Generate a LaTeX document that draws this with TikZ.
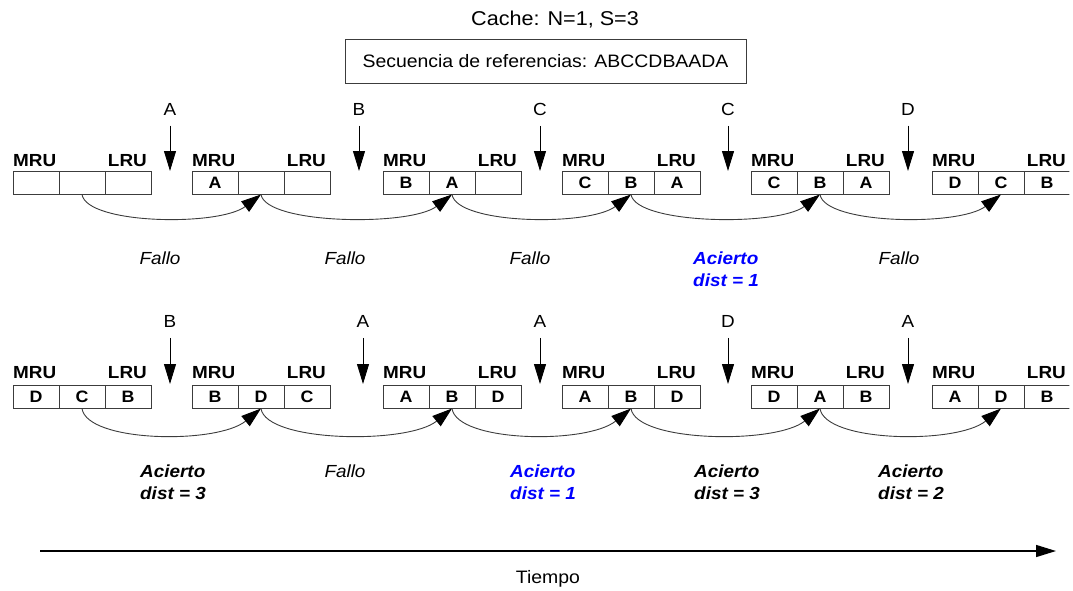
\documentclass[tikz,border=0pt]{standalone}
\usepackage{fontspec}
\setmainfont{Liberation Sans}[FakeStretch=1.08]
\usetikzlibrary{arrows.meta}
\definecolor{hitblue}{RGB}{0,0,255}
\definecolor{linegray}{RGB}{60,60,60}
\tikzset{
 cell/.style={draw=linegray, line width=0.9pt, minimum width=46pt, minimum height=23.5pt, inner sep=0pt, outer sep=0pt, font=\fontsize{16.5}{16.5}\selectfont\bfseries},
 tag/.style={inner sep=0pt, font=\fontsize{17.5}{17.5}\selectfont\bfseries},
 reflabel/.style={inner sep=0pt, font=\fontsize{17.5}{17.5}\selectfont},
 refarrow/.style={line width=0.9pt, -{Triangle[length=20pt,width=12pt]}},
 moveline/.style={draw=linegray, line width=0.9pt, -{Triangle[length=20pt,width=13pt,color=black,fill=black]}},
 outcome/.style={inner sep=0pt, font=\fontsize{17.5}{17.5}\selectfont\itshape},
 hit/.style={inner sep=0pt, anchor=west, font=\fontsize{17.5}{17.5}\selectfont\bfseries\itshape},
}
\begin{document}
\begin{tikzpicture}[x=1pt,y=-1pt]
\useasboundingbox (0,0) rectangle (1073,590);
\clip (0,0) rectangle (1069.4,590);
% title and sequence
\node[inner sep=0pt, font=\fontsize{20}{20}\selectfont] (title) at (555,20) {Cache: N=1, S=3};
\node[draw=linegray, line width=0.9pt, minimum width=401pt, minimum height=44pt, inner sep=0pt, font=\fontsize{18}{18}\selectfont] (seq) at (545.5,61) {Secuencia de referencias: ABCCDBAADA};
% row 1 cache states
\foreach \g/\x/\a/\b/\c in {1/13/{}/{}/{}, 2/192/A/{}/{}, 3/383/B/A/{}, 4/562/C/B/A, 5/751/C/B/A, 6/932/D/C/B} {
  \node[cell] (a\g c1) at (\x+23,182.75) {\a};
  \node[cell] (a\g c2) at (\x+69,182.75) {\b};
  \node[cell] (a\g c3) at (\x+115,182.75) {\c};
  \node[tag, anchor=west] (a\g m) at (\x,161) {MRU};
  \node[tag, anchor=east] (a\g l) at (\x+134,161) {LRU};
}
% row 2 cache states
\foreach \g/\x/\a/\b/\c in {1/13/D/C/B, 2/192/B/D/C, 3/383/A/B/D, 4/562/A/B/D, 5/751/D/A/B, 6/932/A/D/B} {
  \node[cell] (b\g c1) at (\x+23,396.75) {\a};
  \node[cell] (b\g c2) at (\x+69,396.75) {\b};
  \node[cell] (b\g c3) at (\x+115,396.75) {\c};
  \node[tag, anchor=west] (b\g m) at (\x,372.5) {MRU};
  \node[tag, anchor=east] (b\g l) at (\x+134,372.5) {LRU};
}
% transitions
\foreach \i/\j in {1/2,2/3,3/4,4/5,5/6} {
  \draw[moveline] (a\i c2.south) .. controls +(5,30) and +(-42,32) .. (a\j c2.south);
  \draw[moveline] (b\i c2.south) .. controls +(5,34) and +(-44,36) .. (b\j c2.south);
}
% references row 1
\foreach \i/\x/\t in {1/170/A, 2/359/B, 3/540/C, 4/728/C, 5/908/D} {
  \node[reflabel] (ra\i) at (\x,109) {\t};
  \coordinate (rta\i) at (\x,171);
  \draw[refarrow] ([yshift=-10.5pt]ra\i.south) -- (rta\i);
}
% references row 2
\foreach \i/\x/\t in {1/170/B, 2/363/A, 3/540/A, 4/728/D, 5/908/A} {
  \node[reflabel] (rb\i) at (\x,321.5) {\t};
  \coordinate (rtb\i) at (\x,384);
  \draw[refarrow] ([yshift=-10.25pt]rb\i.south) -- (rtb\i);
}
% outcomes row 1
\node[outcome] (oa1) at (160,258) {Fallo};
\node[outcome] (oa2) at (345,258) {Fallo};
\node[outcome] (oa3) at (530,258) {Fallo};
\node[hit, text=hitblue] (oa4) at (693,258) {Acierto};
\node[hit, text=hitblue] (oa4d) at (693,280) {dist = 1};
\node[outcome] (oa5) at (899,258) {Fallo};
% outcomes row 2
\node[hit] (ob1) at (140,471) {Acierto};
\node[hit] (ob1d) at (140,493) {dist = 3};
\node[outcome] (ob2) at (345,471) {Fallo};
\node[hit, text=hitblue] (ob3) at (510,471) {Acierto};
\node[hit, text=hitblue] (ob3d) at (510,493) {dist = 1};
\node[hit] (ob4) at (694,471) {Acierto};
\node[hit] (ob4d) at (694,493) {dist = 3};
\node[hit] (ob5) at (878,471) {Acierto};
\node[hit] (ob5d) at (878,493) {dist = 2};
% time axis
\coordinate (ts) at (40,551);
\coordinate (te) at (1056,551);
\draw[line width=1.4pt, -{Triangle[length=20pt,width=12pt]}] (ts) -- (te);
\node[inner sep=0pt, font=\fontsize{18}{18}\selectfont] (tiempo) at (548,579) {Tiempo};
\end{tikzpicture}
\end{document}
